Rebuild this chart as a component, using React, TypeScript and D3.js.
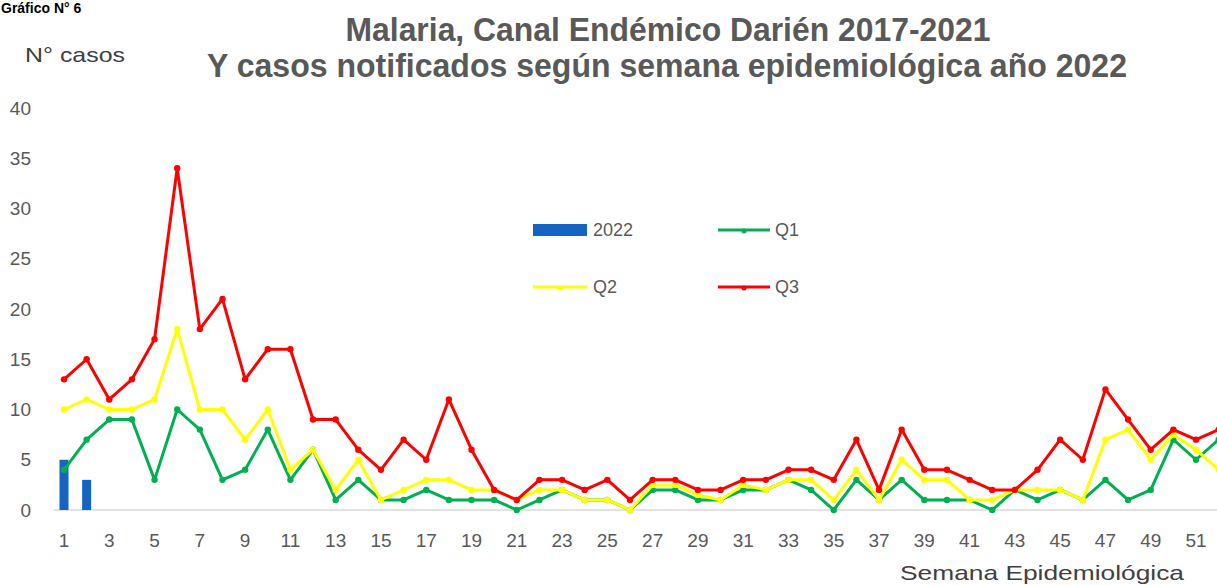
import * as d3 from 'd3';
import React from 'react';

// semanas epidemiológicas
const weeks: number[] = d3.range(1, 53);
const weekTicks: number[] = weeks.filter((w) => w % 2 === 1);
const yTicks: number[] = [0, 5, 10, 15, 20, 25, 30, 35, 40];

// casos 2022 (barras)
const casos2022: number[] = [5, 3];

// cuartiles del canal endémico 2017-2021
const q1: number[] = [4, 7, 9, 9, 3, 10, 8, 3, 4, 8, 3, 6, 1, 3, 1, 1, 2, 1, 1, 1, 0, 1, 2, 1, 1, 0,
  2, 2, 1, 1, 2, 2, 3, 2, 0, 3, 1, 3, 1, 1, 1, 0, 2, 1, 2, 1, 3, 1, 2, 7, 5, 7];
const q2: number[] = [10, 11, 10, 10, 11, 18, 10, 10, 7, 10, 4, 6, 2, 5, 1, 2, 3, 3, 2, 2, 1, 2, 2, 1, 1, 0,
  2.5, 2.5, 1.5, 1, 2.5, 2, 3, 3, 1, 4, 1, 5, 3, 3, 1, 1, 2, 2, 2, 1, 7, 8, 5, 7.5, 6, 4];
const q3: number[] = [13, 15, 11, 13, 17, 34, 18, 21, 13, 16, 16, 9, 9, 6, 4, 7, 5, 11, 6, 2, 1, 3, 3, 2, 3, 1,
  3, 3, 2, 2, 3, 3, 4, 4, 3, 7, 2, 8, 4, 4, 3, 2, 2, 4, 7, 5, 12, 9, 6, 8, 7, 8];

const W = 1217;
const H = 585;

export default function App() {
  const x = d3.scalePoint<number>().domain(weeks).range([64, 64 + 51 * 22.64]);
  const y = d3.scaleLinear().domain([0, 40]).range([510, 108]);

  const line = d3.line<number>()
    .x((d, i) => x(weeks[i]) as number)
    .y((d) => y(d));

  const series = [
    { name: 'Q1', data: q1, color: '#00B050' },
    { name: 'Q2', data: q2, color: '#FFFF00' },
    { name: 'Q3', data: q3, color: '#FF0000' },
  ];
  const barColor = '#1565C0';
  const grey = '#595959';

  return (
    <svg width={W} height={H} style={{ position: 'absolute', left: 0, top: 0, background: '#fff' }}
      fontFamily="'Liberation Sans', Arial, sans-serif">
      <text x={1} y={13} fontSize={14} fontWeight="bold" fill="#000">Gráfico N° 6</text>

      {/* titulo */}
      <text x={668} y={41} textAnchor="middle" fontSize={33} fontWeight="bold" fill={grey}
        textLength={645} lengthAdjust="spacingAndGlyphs">Malaria, Canal Endémico Darién 2017-2021</text>
      <text x={667} y={77} textAnchor="middle" fontSize={33} fontWeight="bold" fill={grey}
        textLength={920} lengthAdjust="spacingAndGlyphs">Y casos notificados según semana epidemiológica año 2022</text>

      <text x={25} y={62} fontSize={21} fill="#404040" textLength={100} lengthAdjust="spacingAndGlyphs">N° casos</text>

      {/* eje y */}
      {yTicks.map((t) => (
        <text key={t} x={31} y={y(t)} dy="0.35em" textAnchor="end" fontSize={19} fill={grey}>{t}</text>
      ))}

      {/* eje x */}
      <line x1={54} x2={W} y1={y(0)} y2={y(0)} stroke="#d9d9d9" strokeWidth={1.5} />
      {weekTicks.map((w) => (
        <text key={w} x={x(w)} y={547} textAnchor="middle" fontSize={19} fill={grey}>{w}</text>
      ))}
      <text x={900} y={580} fontSize={21} fill="#404040" textLength={284} lengthAdjust="spacingAndGlyphs">Semana Epidemiológica</text>

      {/* barras 2022 */}
      {casos2022.map((v, i) => (
        <rect key={i} x={(x(weeks[i]) as number) - 4.5} width={9} y={y(v)} height={y(0) - y(v)} fill={barColor} />
      ))}

      {/* lineas */}
      {series.map((s) => (
        <g key={s.name}>
          <path d={line(s.data) || ''} fill="none" stroke={s.color} strokeWidth={3} strokeLinejoin="round" />
          {s.data.map((v, i) => (
            <circle key={i} cx={x(weeks[i])} cy={y(v)} r={3.2} fill={s.color} />
          ))}
        </g>
      ))}

      {/* leyenda */}
      <rect x={533} y={224} width={54} height={12} fill={barColor} />
      <text x={593} y={230} dy="0.35em" fontSize={18} fill={grey}>2022</text>
      <line x1={718} x2={770} y1={230} y2={230} stroke={series[0].color} strokeWidth={3} />
      <circle cx={744} cy={231} r={2.5} fill={series[0].color} />
      <text x={775} y={230} dy="0.35em" fontSize={18} fill={grey}>Q1</text>
      <line x1={533} x2={587} y1={287} y2={287} stroke={series[1].color} strokeWidth={3} />
      <circle cx={560} cy={288} r={2.5} fill={series[1].color} />
      <text x={593} y={287} dy="0.35em" fontSize={18} fill={grey}>Q2</text>
      <line x1={718} x2={770} y1={287} y2={287} stroke={series[2].color} strokeWidth={3} />
      <circle cx={744} cy={288} r={2.5} fill={series[2].color} />
      <text x={775} y={287} dy="0.35em" fontSize={18} fill={grey}>Q3</text>
    </svg>
  );
}
